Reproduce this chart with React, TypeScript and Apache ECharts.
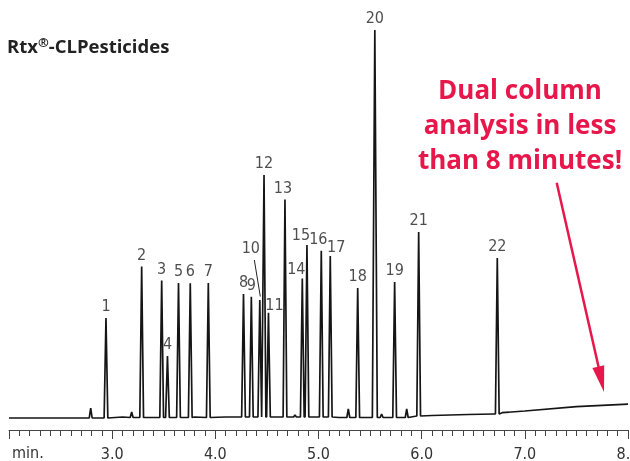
import React, { useEffect, useRef } from "react";
import * as echarts from "echarts";

// Peak table (retention time in min, height in detector units, baseline under the peak)
const peakNames = ["1","2","3","4","5","6","7","8","9","10","11","12","13","14","15","16","17","18","19","20","21","22"];
const peakTimes = [2.940,3.286,3.480,3.536,3.643,3.757,3.932,4.273,4.349,4.431,4.515,4.472,4.675,4.843,4.888,5.027,5.114,5.380,5.738,5.546,5.971,6.733];
const peakHeights = [112,163.5,149.5,74,147,146.7,147,136,133.3,130,117.3,255,230.5,151.5,185,179.3,174,142,148,400,198,172];
const peakBase = [12,12.5,12.5,12.5,12.5,12.5,12.5,13,13,13,13,13,13,13,13,13,13,12.5,12.5,12.5,14,16];

// Minor bumps in the trace
const bumpTimes = [2.792,3.189,4.772,5.289,5.612,5.855];
const bumpHeights = [22,18,15,21,16,21];
const bumpBase = [12,12.5,13,12.5,12.5,12.5];

// Baseline between peaks
const baseTimes = [2.0,2.5,2.7,3.1,3.8,4.1,4.6,5.2,5.45,5.66,6.1,6.45,6.70,6.78,7.0,7.5,8.0];
const baseLevels = [12,12,12,13,13,13,13,12.5,12.5,12.5,14.5,15.5,16,17.3,19,23.3,25.8];

// Leader line from label "10" to its peak
const leader10 = [[4.378,170],[4.436,133.5]];

const xTicks = [2,3,4,5,6,7,8];

// label nudges (style, px)
const labelNudge: Record<string, [number, number]> = {
  "10": [-9, -40],
  "11": [6, 4],
  "13": [-2, 0],
  "14": [-6, 2],
  "15": [-6, 2],
  "16": [-3, 0],
  "17": [6, 3],
};

const NARROW = "'Liberation Sans Narrow','DejaVu Sans Condensed','Roboto Condensed',Roboto,sans-serif";
const RED = "#e8174b";

function buildTrace(): [number, number][] {
  const pts: [number, number][] = [];
  baseTimes.forEach((t, i) => pts.push([t, baseLevels[i]]));
  peakTimes.forEach((t, i) => {
    const w = peakNames[i] === "20" ? 0.024 : 0.018;
    pts.push([t - w, peakBase[i]], [t, peakHeights[i]], [t + w, peakBase[i]]);
  });
  bumpTimes.forEach((t, i) => {
    pts.push([t - 0.014, bumpBase[i]], [t, bumpHeights[i]], [t + 0.014, bumpBase[i]]);
  });
  pts.sort((a, b) => a[0] - b[0]);
  return pts;
}

export default function App() {
  const ref = useRef<HTMLDivElement>(null);
  useEffect(() => {
    if (!ref.current) return;
    const chart = echarts.init(ref.current, null, { renderer: "svg" });
    const labelData = peakNames.map((n, i) => {
      const nudge = labelNudge[n] || [0, 0];
      return {
        name: n,
        value: [peakTimes[i], peakHeights[i]],
        label: { offset: nudge },
      };
    });
    chart.setOption({
      animation: false,
      grid: { left: 9, right: 2, top: 30, bottom: 30, containLabel: false, outerBoundsMode: "none" },
      xAxis: {
        type: "value",
        min: xTicks[0],
        max: xTicks[xTicks.length - 1],
        interval: 1,
        axisLine: { show: true, lineStyle: { color: "#444", width: 1 } },
        axisTick: { show: true, length: 9, lineStyle: { color: "#444", width: 1 } },
        minorTick: { show: true, splitNumber: 10, length: 6, lineStyle: { color: "#444", width: 1 } },
        splitLine: { show: false },
        axisLabel: {
          margin: 14,
          fontSize: 16,
          fontFamily: NARROW,
          color: "#333",
          hideOverlap: false,
          formatter: (v: number) => (v === 2 ? "" : v.toFixed(1)),
        },
      },
      yAxis: { type: "value", min: -1, max: 400, show: false },
      series: [
        {
          type: "line",
          data: buildTrace(),
          showSymbol: false,
          silent: true,
          lineStyle: { color: "#151515", width: 1.7 },
        },
        {
          type: "scatter",
          data: labelData,
          symbolSize: 1,
          silent: true,
          itemStyle: { color: "transparent" },
          label: {
            show: true,
            position: "top",
            distance: 4,
            formatter: "{b}",
            fontSize: 16,
            fontFamily: NARROW,
            color: "#222",
          },
          markLine: {
            silent: true,
            symbol: ["none", "none"],
            label: { show: false },
            lineStyle: { color: "#222", width: 1, type: "solid" },
            data: [[{ coord: leader10[0] }, { coord: leader10[1] }]],
          },
        },
      ],
      graphic: [
        {
          type: "text",
          left: 7,
          top: 35,
          style: {
            text: "{a|Rtx}{s|®}{a|-CLPesticides}",
            rich: {
              a: { fontSize: 18.5, fontWeight: "bold", fontFamily: "'Open Sans',sans-serif", fill: "#222" },
              s: { fontSize: 13, fontWeight: "bold", fontFamily: "'Open Sans',sans-serif", fill: "#222", verticalAlign: "top", padding: [0, 0, 8, 0] },
            },
          },
        },
        {
          type: "text",
          left: 12,
          top: 444,
          style: { text: "min.", fontSize: 16, fontFamily: NARROW, fill: "#333" },
        },
        {
          type: "text",
          x: 520,
          y: 71,
          style: {
            text: "Dual column\nanalysis in less\nthan 8 minutes!",
            align: "center",
            verticalAlign: "top",
            fontSize: 26,
            fontWeight: "bold",
            lineHeight: 35,
            fontFamily: "'Open Sans',sans-serif",
            fill: RED,
          },
        },
        {
          type: "line",
          shape: { x1: 556.7, y1: 182.7, x2: 598.6, y2: 367 },
          style: { stroke: RED, lineWidth: 2.5 },
        },
        {
          type: "polygon",
          shape: { points: [[604, 392], [592.4, 367.9], [604.2, 365.3]] },
          style: { fill: RED },
        },
      ],
    });
    return () => chart.dispose();
  }, []);
  return <div ref={ref} style={{ position: "fixed", left: 0, top: 0, width: 630, height: 461 }} />;
}
